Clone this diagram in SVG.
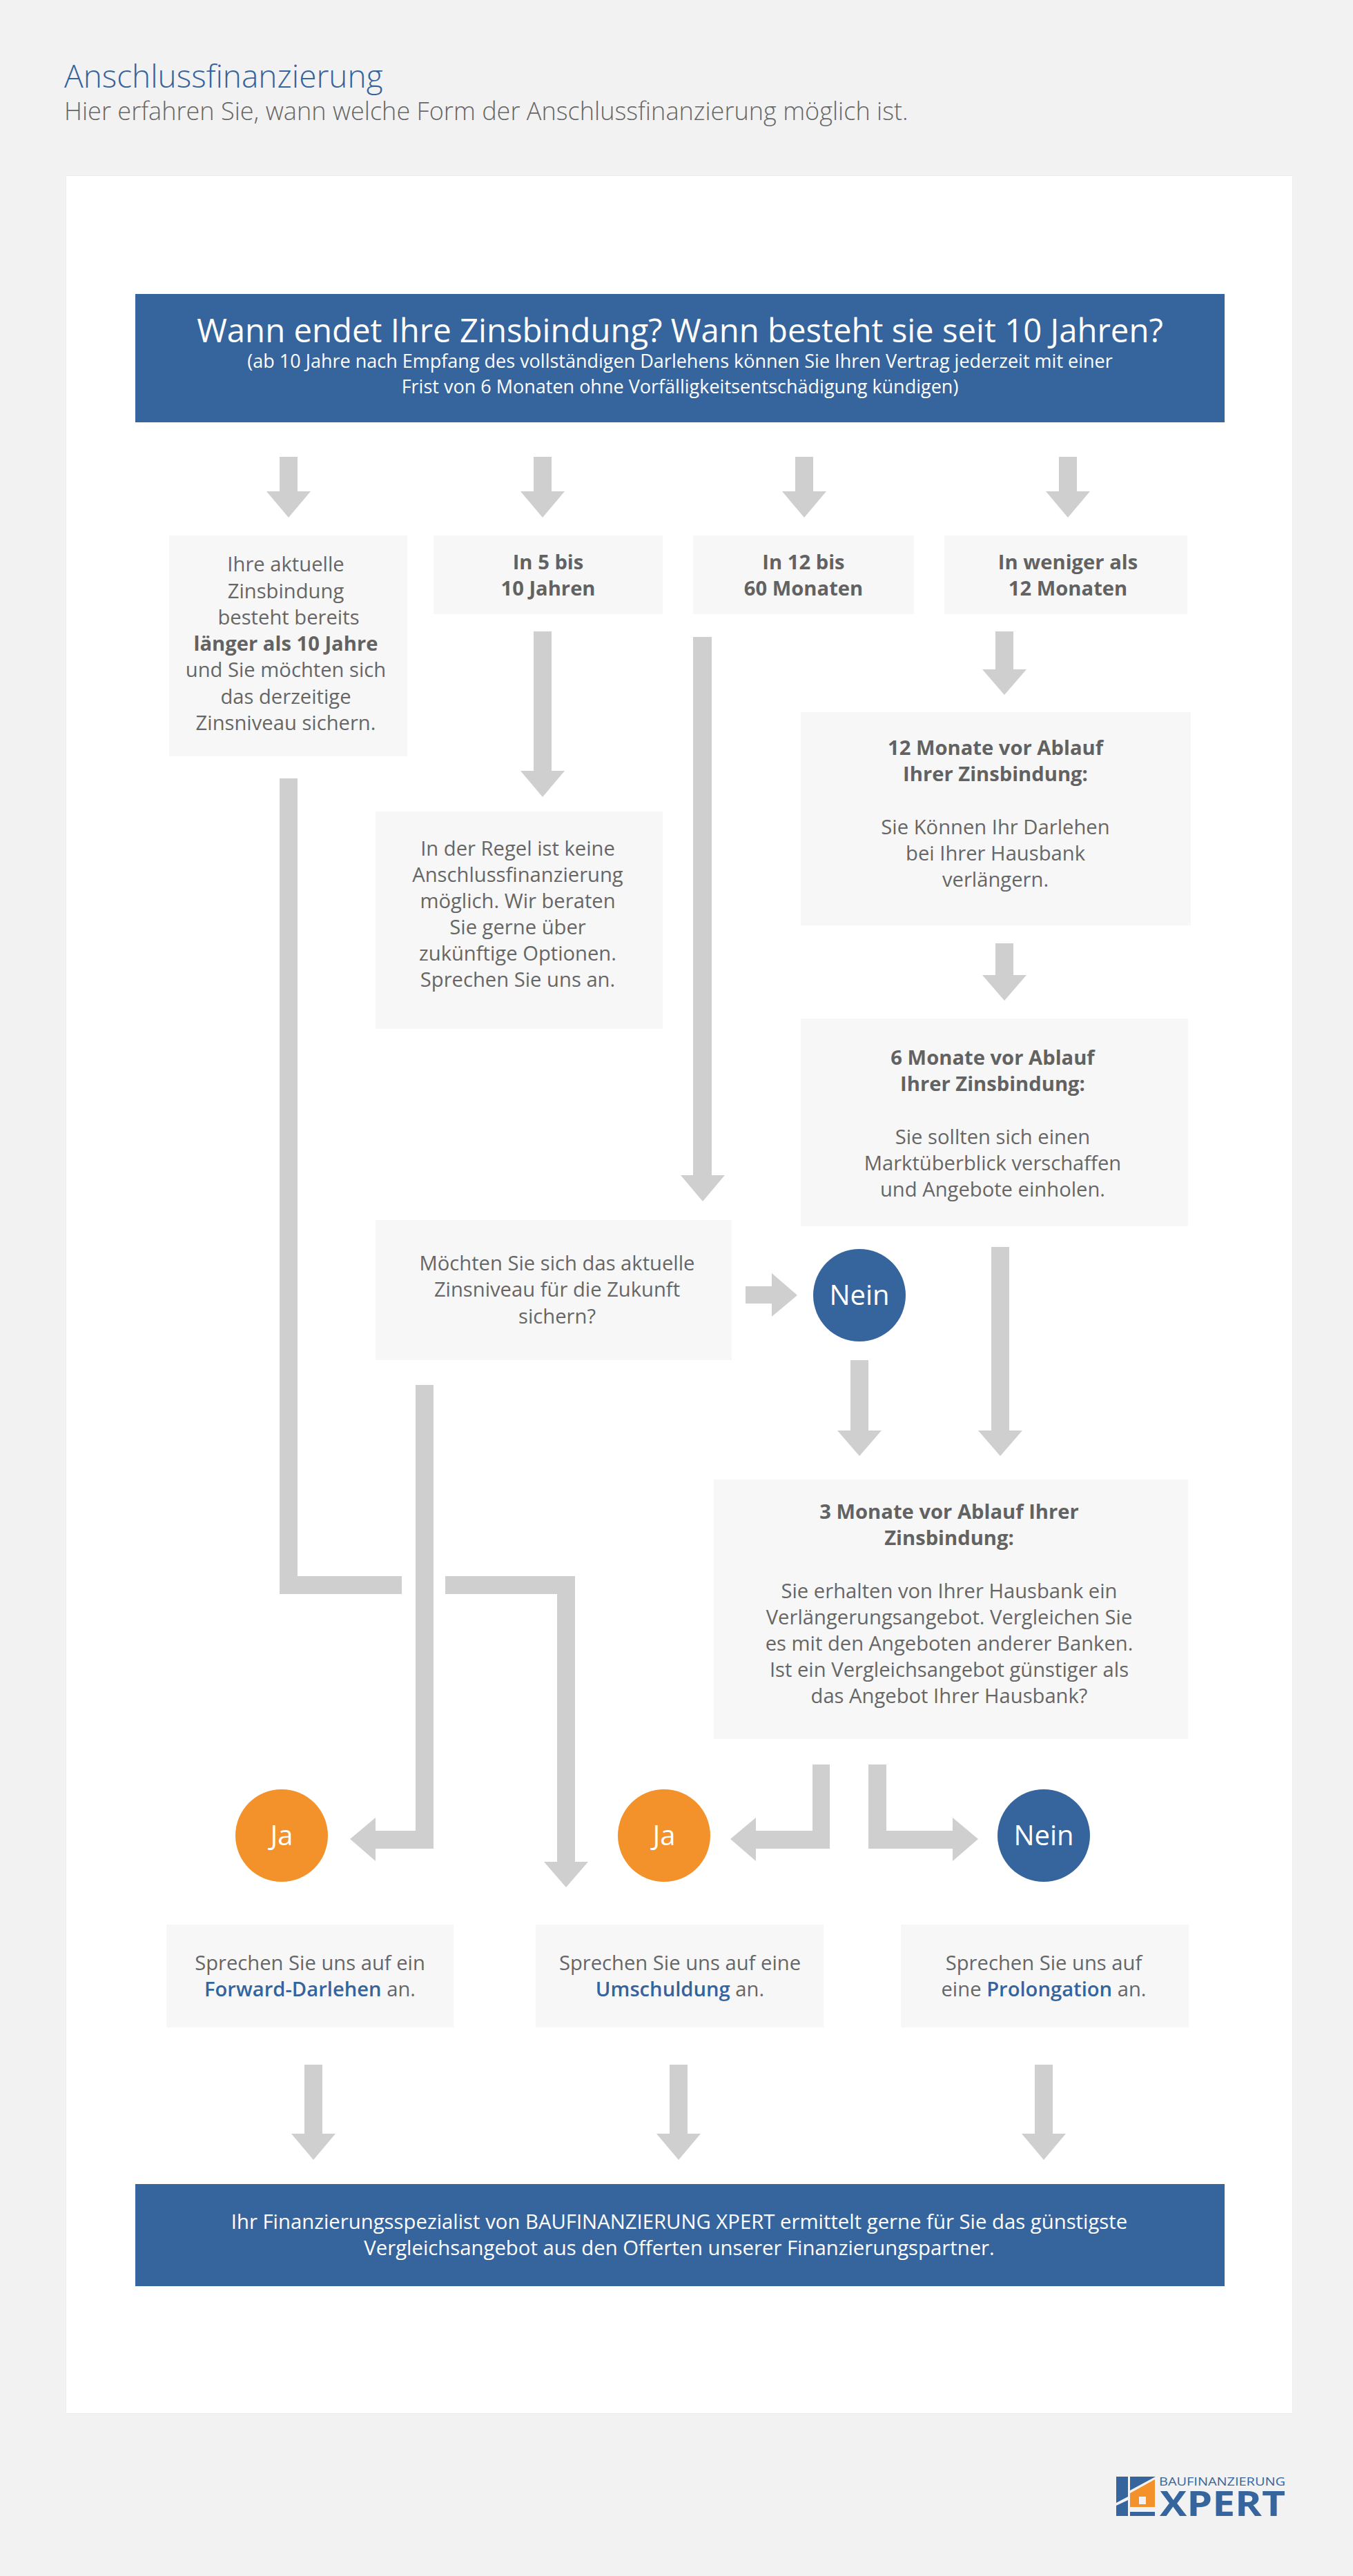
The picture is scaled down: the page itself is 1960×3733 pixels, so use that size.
<svg xmlns="http://www.w3.org/2000/svg" width="1960" height="3733" viewBox="0 0 1960 3733">
<style>
text{font-family:"Open Sans","Noto Sans","DejaVu Sans",sans-serif;text-anchor:middle}
.b{font-size:29.2px;fill:#666}
.s{font-weight:700;fill:#626262}
.h{font-weight:600;fill:#35639c}
.box{fill:#f7f7f7}
.blue{fill:#36659d}
.ar{fill:#cfcfcf}
.c{font-size:40px;fill:#fff}
.l{text-anchor:start}
</style>
<rect width="1960" height="3733" fill="#f2f2f2"/>
<rect x="95.500" y="254.500" width="1777" height="3243" fill="#fff" stroke="#ededed"/>
<g id="title">
<text class="l" x="93" y="127" font-size="46" font-weight="300" style="fill:#35639c">Anschlussfinanzierung</text>
<text class="l" x="93" y="174" font-size="36.100" font-weight="300" style="fill:#666">Hier erfahren Sie, wann welche Form der Anschlussfinanzierung möglich ist.</text>
</g>
<g id="connectors">
<path class="ar" d="M405 662h26v50h19l-32 38-32-38h19z"/>
<path class="ar" d="M773 662h26v50h19l-32 38-32-38h19z"/>
<path class="ar" d="M1152 662h26v50h19l-32 38-32-38h19z"/>
<path class="ar" d="M1534 662h26v50h19l-32 38-32-38h19z"/>
<path class="ar" d="M773 915h26v202h19l-32 38-32-38h19z"/>
<path class="ar" d="M1004 923h27v780h19l-32 38-32-38h18z"/>
<path class="ar" d="M1442 915h26v55h19l-32 37-32-37h19z"/>
<path class="ar" d="M1442 1367h26v46h19l-32 37-32-37h19z"/>
<path class="ar" d="M405 1128h26v1156h151v26H405z"/>
<path class="ar" d="M645 2284h188v414h19l-32 37-32-37h19V2310H645z"/>
<path class="ar" d="M602 2007h26v672h-84v18l-37-32 37-31v19h58z"/>
<path class="ar" d="M1080 1864h38v-19l37 32-37 31v-19h-38z"/>
<path class="ar" d="M1232 1971h26v102h19l-32 37-32-37h19z"/>
<path class="ar" d="M1436 1807h26v266h19l-32 37-32-37h19z"/>
<path class="ar" d="M1177 2557h25v122h-107v18l-37-32 37-31v19h82z"/>
<path class="ar" d="M1258 2557h26v96h96v-19l37 31-37 32v-18h-122z"/>
<path class="ar" d="M441 2992h26v100h19l-32 38-32-38h19z"/>
<path class="ar" d="M970 2992h26v100h19l-32 38-32-38h19z"/>
<path class="ar" d="M1499 2992h26v100h19l-32 38-32-38h19z"/>
</g>
<g id="header">
<rect class="blue" x="196" y="426" width="1578" height="186"/>
<text x="985" y="496" font-size="47.300" fill="#fff">Wann endet Ihre Zinsbindung? Wann besteht sie seit 10 Jahren?</text>
<text x="985" y="533" font-size="27" fill="#fff">(ab 10 Jahre nach Empfang des vollständigen Darlehens können Sie Ihren Vertrag jederzeit mit einer</text>
<text x="985" y="570" font-size="27" fill="#fff">Frist von 6 Monaten ohne Vorfälligkeitsentschädigung kündigen)</text>
</g>
<g id="n1">
<rect class="box" x="245" y="776" width="345" height="320"/>
<text class="b" x="414" y="828">Ihre aktuelle</text>
<text class="b" x="414" y="867">Zinsbindung</text>
<text class="b" x="418" y="905">besteht bereits</text>
<text class="b s" x="414" y="943">länger als 10 Jahre</text>
<text class="b" x="414" y="981">und Sie möchten sich</text>
<text class="b" x="414" y="1020">das derzeitige</text>
<text class="b" x="414" y="1058">Zinsniveau sichern.</text>
</g>
<g id="n2">
<rect class="box" x="628" y="776" width="332" height="114"/>
<text class="b s" x="794" y="825">In 5 bis</text>
<text class="b s" x="794" y="863">10 Jahren</text>
</g>
<g id="n3">
<rect class="box" x="1004" y="776" width="320" height="114"/>
<text class="b s" x="1164" y="825">In 12 bis</text>
<text class="b s" x="1164" y="863">60 Monaten</text>
</g>
<g id="n4">
<rect class="box" x="1368" y="776" width="352" height="114"/>
<text class="b s" x="1547" y="825">In weniger als</text>
<text class="b s" x="1547" y="863">12 Monaten</text>
</g>
<g id="n5">
<rect class="box" x="1160" y="1032" width="565" height="309"/>
<text class="b s" x="1442" y="1094">12 Monate vor Ablauf</text>
<text class="b s" x="1442" y="1132">Ihrer Zinsbindung:</text>
<text class="b" x="1442" y="1209">Sie Können Ihr Darlehen</text>
<text class="b" x="1442" y="1247">bei Ihrer Hausbank</text>
<text class="b" x="1442" y="1285">verlängern.</text>
</g>
<g id="n6">
<rect class="box" x="544" y="1176" width="416" height="315"/>
<text class="b" x="750" y="1240">In der Regel ist keine</text>
<text class="b" x="750" y="1278">Anschlussfinanzierung</text>
<text class="b" x="750" y="1316">möglich. Wir beraten</text>
<text class="b" x="750" y="1354">Sie gerne über</text>
<text class="b" x="750" y="1392">zukünftige Optionen.</text>
<text class="b" x="750" y="1430">Sprechen Sie uns an.</text>
</g>
<g id="n7">
<rect class="box" x="1160" y="1476" width="561" height="301"/>
<text class="b s" x="1438" y="1543">6 Monate vor Ablauf</text>
<text class="b s" x="1438" y="1581">Ihrer Zinsbindung:</text>
<text class="b" x="1438" y="1658">Sie sollten sich einen</text>
<text class="b" x="1438" y="1696">Marktüberblick verschaffen</text>
<text class="b" x="1438" y="1734">und Angebote einholen.</text>
</g>
<g id="n8">
<rect class="box" x="544" y="1768" width="516" height="203"/>
<text class="b" x="807" y="1841">Möchten Sie sich das aktuelle</text>
<text class="b" x="807" y="1879">Zinsniveau für die Zukunft</text>
<text class="b" x="807" y="1918">sichern?</text>
</g>
<g id="n9"><circle class="blue" cx="1245" cy="1877" r="67"/><text class="c" x="1245" y="1891">Nein</text></g>
<g id="n10">
<rect class="box" x="1034" y="2144" width="687" height="376"/>
<text class="b s" x="1375" y="2201">3 Monate vor Ablauf Ihrer</text>
<text class="b s" x="1375" y="2239">Zinsbindung:</text>
<text class="b" x="1375" y="2316">Sie erhalten von Ihrer Hausbank ein</text>
<text class="b" x="1375" y="2354">Verlängerungsangebot. Vergleichen Sie</text>
<text class="b" x="1375" y="2392">es mit den Angeboten anderer Banken.</text>
<text class="b" x="1375" y="2430">Ist ein Vergleichsangebot günstiger als</text>
<text class="b" x="1375" y="2468">das Angebot Ihrer Hausbank?</text>
</g>
<g id="n11"><circle cx="408" cy="2660" r="67" fill="#f3922a"/><text class="c" x="408" y="2674">Ja</text></g>
<g id="n12"><circle cx="962" cy="2660" r="67" fill="#f3922a"/><text class="c" x="962" y="2674">Ja</text></g>
<g id="n13"><circle class="blue" cx="1512" cy="2660" r="67"/><text class="c" x="1512" y="2674">Nein</text></g>
<g id="n14">
<rect class="box" x="241" y="2789" width="416" height="149"/>
<text class="b" x="449" y="2855">Sprechen Sie uns auf ein</text>
<text class="b" x="449" y="2893"><tspan class="h">Forward-Darlehen</tspan> an.</text>
</g>
<g id="n15">
<rect class="box" x="776" y="2789" width="417" height="149"/>
<text class="b" x="985" y="2855">Sprechen Sie uns auf eine</text>
<text class="b" x="985" y="2893"><tspan class="h">Umschuldung</tspan> an.</text>
</g>
<g id="n16">
<rect class="box" x="1305" y="2789" width="417" height="149"/>
<text class="b" x="1512" y="2855">Sprechen Sie uns auf</text>
<text class="b" x="1512" y="2893">eine <tspan class="h">Prolongation</tspan> an.</text>
</g>
<g id="footer">
<rect class="blue" x="196" y="3165" width="1578" height="148"/>
<text x="984" y="3230" font-size="29.300" fill="#fff">Ihr Finanzierungsspezialist von BAUFINANZIERUNG XPERT ermittelt gerne für Sie das günstigste</text>
<text x="984" y="3268" font-size="29.300" fill="#fff">Vergleichsangebot aus den Offerten unserer Finanzierungspartner.</text>
</g>
<g id="logo">
<path class="blue" d="M1617 3589h17v29l-17 9zM1617 3631l17-8v23h-17zM1637 3589h37l-37 20z"/>
<path fill="#f3922a" d="M1637 3613l36-20v40h-36z"/>
<rect x="1650" y="3618" width="10" height="11" fill="#f2f2f2"/>
<rect class="blue" x="1637" y="3640" width="36" height="6"/>
<text class="l" x="1679" y="3602" font-size="16.500" font-weight="400" textLength="183" lengthAdjust="spacingAndGlyphs" style="fill:#36659d">BAUFINANZIERUNG</text>
<text class="l" x="1680" y="3646" font-size="50" font-weight="700" textLength="182" lengthAdjust="spacingAndGlyphs" style="fill:#36659d">XPERT</text>
</g>
</svg>
